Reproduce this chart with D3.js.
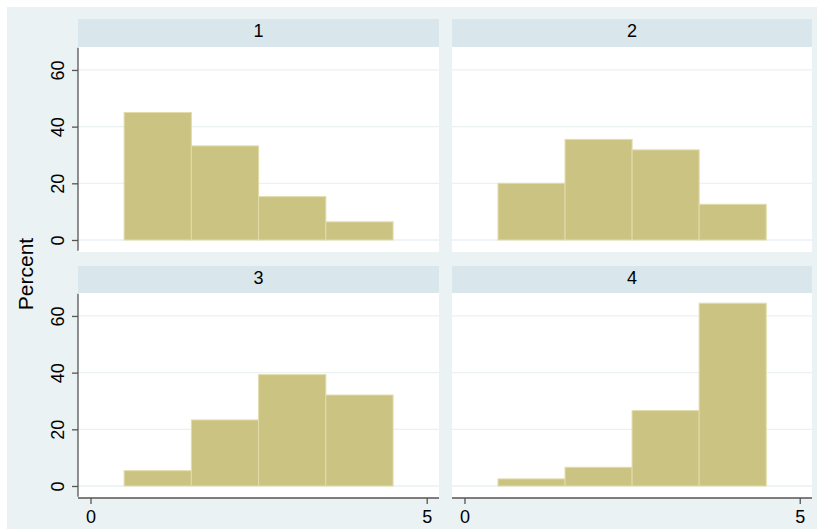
<!DOCTYPE html>
<html>
<head>
<meta charset="utf-8">
<script src="https://cdn.jsdelivr.net/npm/d3@7/dist/d3.min.js"></script>
<style>
  body { margin: 0; background: #ffffff; }
  text { font-family: "Liberation Sans", Arial, Helvetica, sans-serif; fill: #000; }
</style>
</head>
<body>
<svg id="chart" width="817" height="529"></svg>
<script>
// ---- data ----
const panels = ["1", "2", "3", "4"];
const binCenters = [1, 2, 3, 4];
const binWidth = 1;
const percent1 = [45.0, 33.2, 15.3, 6.4];
const percent2 = [20.0, 35.5, 31.8, 12.6];
const percent3 = [5.4, 23.3, 39.3, 32.1];
const percent4 = [2.5, 6.6, 26.6, 64.5];
const yTicks = [0, 20, 40, 60];
const xTicks = [0, 5];
const yTitle = "Percent";

const seriesByPanel = [percent1, percent2, percent3, percent4];

// ---- style / layout ----
const colBg = "#eaf2f3", stripBg = "#d9e6eb", barFill = "#cbc382", barStroke = "#e2dbab";
const gridCol = "#eaf2f3", axisCol = "#555555";
const cols = [{x0: 78, x1: 439}, {x0: 452, x1: 812}];
const rows = [{s0: 19, p0: 47, p1: 252}, {s0: 266, p0: 293, p1: 498}];

const svg = d3.select("#chart");
svg.append("rect").attr("x", 7).attr("y", 7).attr("width", 810).attr("height", 522).attr("fill", colBg);

panels.forEach((name, i) => {
  const r = rows[Math.floor(i / 2)], c = cols[i % 2];
  const x = d3.scaleLinear().domain([-0.186, 5.183]).range([c.x0, c.x1]);
  const y = d3.scaleLinear().domain([-4.24, 68.1]).range([r.p1, r.p0]);
  const g = svg.append("g");

  // strip
  g.append("rect").attr("x", c.x0).attr("y", r.s0).attr("width", c.x1 - c.x0).attr("height", r.p0 - r.s0).attr("fill", stripBg);
  g.append("text").attr("x", (c.x0 + c.x1) / 2).attr("y", r.s0 + 17.7).attr("text-anchor", "middle")
    .style("font-size", "18px").text(name);

  // plot area
  g.append("rect").attr("x", c.x0).attr("y", r.p0).attr("width", c.x1 - c.x0).attr("height", r.p1 - r.p0).attr("fill", "#ffffff");

  // gridlines
  g.selectAll(".grid").data(yTicks).enter().append("line")
    .attr("x1", c.x0).attr("x2", c.x1)
    .attr("y1", d => y(d)).attr("y2", d => y(d))
    .attr("stroke", gridCol).attr("stroke-width", 1.3);

  // bars
  g.selectAll(".bar").data(seriesByPanel[i]).enter().append("rect")
    .attr("x", (d, k) => x(binCenters[k] - binWidth / 2))
    .attr("width", (d, k) => x(binCenters[k] + binWidth / 2) - x(binCenters[k] - binWidth / 2))
    .attr("y", d => y(d))
    .attr("height", d => y(0) - y(d))
    .attr("fill", barFill).attr("stroke", barStroke).attr("stroke-width", 1);

  // y axis (left column only)
  if (i % 2 === 0) {
    const ay = g.append("g").attr("transform", `translate(${c.x0},0)`)
      .call(d3.axisLeft(y).tickValues(yTicks).tickSize(6).tickFormat(d3.format("d")));
    ay.select(".domain").attr("d", `M0,${r.p0 + 0.7}V${r.p1 - 1.3}`).attr("stroke", axisCol).attr("stroke-width", 1.3);
    ay.selectAll(".tick line").attr("stroke", axisCol).attr("stroke-width", 1.3);
    ay.selectAll(".tick text")
      .attr("transform", "rotate(-90)")
      .attr("x", 0).attr("y", -14.5).attr("dy", 0)
      .attr("text-anchor", "middle")
      .style("font-size", "18px").style("font-family", "'Liberation Sans', Arial, sans-serif").attr("fill", "#000");
  }

  // x axis (bottom row only)
  if (i >= 2) {
    const ax = g.append("g").attr("transform", `translate(0,${r.p1})`)
      .call(d3.axisBottom(x).tickValues(xTicks).tickSize(6).tickFormat(d3.format("d")));
    ax.select(".domain").attr("d", `M${c.x0},0H${c.x1}`).attr("stroke", axisCol).attr("stroke-width", 1.3);
    ax.selectAll(".tick line").attr("stroke", axisCol).attr("stroke-width", 1.3);
    ax.selectAll(".tick text")
      .attr("y", 24.5).attr("dy", 0)
      .style("font-size", "18px").style("font-family", "'Liberation Sans', Arial, sans-serif").attr("fill", "#000");
  }
});

// y title
svg.append("text")
  .attr("transform", "translate(33,274) rotate(-90)")
  .attr("text-anchor", "middle")
  .style("font-size", "21px")
  .text(yTitle);
</script>
</body>
</html>
